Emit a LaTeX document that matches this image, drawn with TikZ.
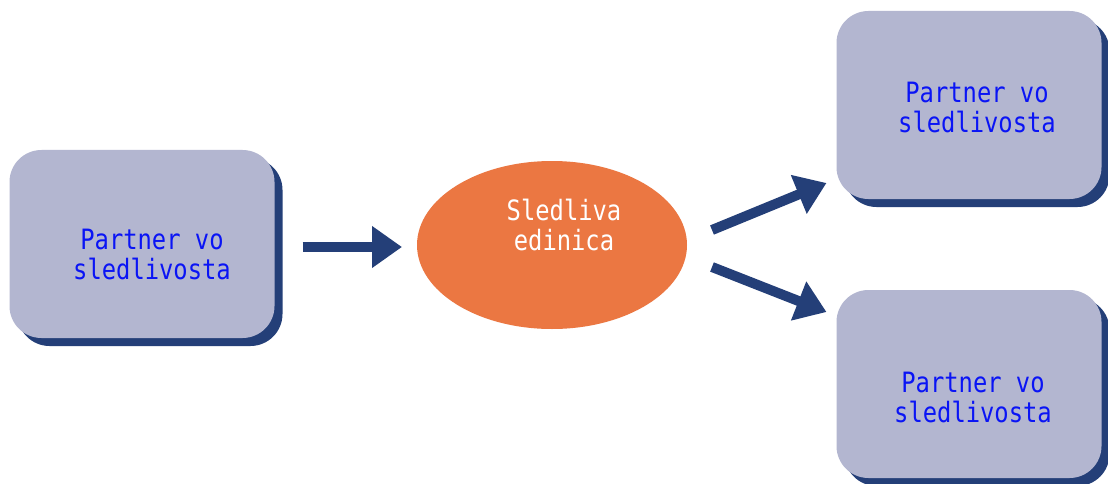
\documentclass[tikz,border=0pt]{standalone}
\usepackage{fontspec}
\newfontfamily\monofam[FakeStretch=0.85]{DejaVu Sans Mono}
\usetikzlibrary{shapes.geometric,shadows,calc,arrows.meta}
\definecolor{boxfill}{HTML}{B3B6D0}
\definecolor{navy}{HTML}{243F78}
\definecolor{orng}{HTML}{EB7742}
\definecolor{txtblue}{HTML}{0A14F5}
\begin{document}
\begin{tikzpicture}[x=1pt,y=-1pt,
  pbox/.style={draw=none,fill=boxfill,rounded corners=32pt,minimum width=265pt,minimum height=188pt,inner sep=0pt,outer sep=0pt,
    drop shadow={shadow xshift=8pt,shadow yshift=-8pt,fill=navy,opacity=1}},
  oval/.style={ellipse,fill=orng,draw=none,minimum width=270pt,minimum height=168pt,inner sep=0pt,outer sep=0pt},
  lbl/.style={font=\monofam\fontsize{28}{30}\selectfont,align=center,inner sep=0pt},
  arr/.style={draw=navy,line width=10pt,-{Triangle[length=30pt,width=40pt]}}]
\useasboundingbox (0,0) rectangle (1108,484);
\fill[white] (0,0) rectangle (1108,484);
\node[pbox] (L) at (142,244) {};
\node[pbox] (T) at (969,105) {};
\node[pbox] (B) at (969,384) {};
\node[oval] (E) at (552,245) {};
\node[lbl,text=txtblue] (Lt) at ($(L.center)+(10,10)$) {Partner vo\\sledlivosta};
\node[lbl,text=txtblue] (Tt) at ($(T.center)+(8,2)$) {Partner vo\\sledlivosta};
\node[lbl,text=txtblue] (Bt) at ($(B.center)+(4,13)$) {Partner vo\\sledlivosta};
\node[lbl,text=white] (Et) at ($(E.center)+(12,-20)$) {Sledliva\\edinica};
\draw[arr] ($(L.east)+(28,3)$) -- ($(E.west)+(-15,2)$);
\draw[arr] ($(E.east)+(25,-15)$) -- ($(T.south west)+(-10,-16)$);
\draw[arr] ($(E.east)+(25,22)$) -- ($(B.north west)+(-10,22)$);
\end{tikzpicture}
\end{document}
